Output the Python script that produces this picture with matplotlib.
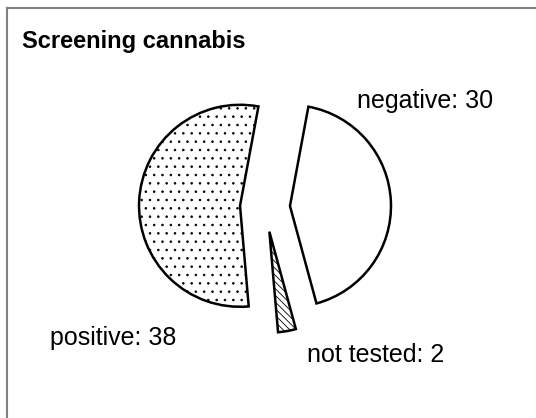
import matplotlib
matplotlib.use("Agg")
import matplotlib.pyplot as plt
from matplotlib.lines import Line2D

categories = ["negative", "not tested", "positive"]
values = [30, 2, 38]
hatches = ["", "\\\\\\\\\\", ".."]
title = "Screening cannabis"

W, H = 536, 418
plt.rcParams['font.family'] = ['Liberation Sans', 'DejaVu Sans']
plt.rcParams['hatch.linewidth'] = 0.6

fig = plt.figure(figsize=(W / 100, H / 100), dpi=100)
ax = fig.add_axes([0, 0, 1, 1])

def Y(y):
    return H - y

wedges, _ = ax.pie(values, center=(265, Y(207)), radius=101, startangle=79.5,
                   counterclock=False, explode=[25] * len(values),
                   wedgeprops=dict(facecolor="white", edgecolor="black", linewidth=1.8))
for w, h in zip(wedges, hatches):
    w.set_hatch(h)

ax.set_xlim(0, W)
ax.set_ylim(0, H)
ax.set_aspect("auto")
ax.set_axis_off()

# frame lines (top and left)
ax.add_line(Line2D([7, W], [Y(8), Y(8)], color="#808080", linewidth=1.5))
ax.add_line(Line2D([7, 7], [Y(8), 0], color="#808080", linewidth=1.5))

ax.text(22, Y(48), title, fontsize=17, fontweight="bold", ha="left", va="baseline")

label_pos = {"negative": (357, 108), "not tested": (307, 362), "positive": (50, 345)}
for c, v in zip(categories, values):
    x, y = label_pos[c]
    ax.text(x, Y(y), f"{c}: {v}", fontsize=18, ha="left", va="baseline")

fig.savefig("out.png", dpi=100)
